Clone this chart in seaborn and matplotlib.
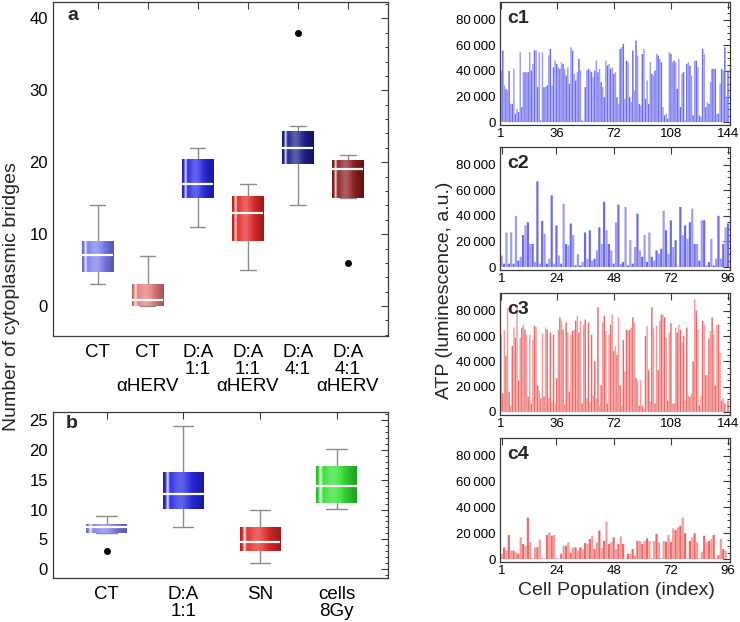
import numpy as np
import seaborn as sns
import matplotlib.pyplot as plt
from matplotlib.colors import to_rgb
from matplotlib.ticker import MultipleLocator, FixedLocator, FuncFormatter

# ── Panel a: cytoplasmic bridges (box stats) ────────────────────────────────
a_labels = ["CT", "CT\n\nαHERV", "D:A\n1:1", "D:A\n1:1\nαHERV",
            "D:A\n4:1", "D:A\n4:1\nαHERV"]
a_q1 = [4.75, 0.0, 15.0, 9.0, 19.8, 15.0]
a_med = [7.05, 0.9, 17.0, 13.0, 22.0, 19.0]
a_q3 = [9.0, 2.95, 20.3, 15.25, 24.3, 20.2]
a_lo = [3.0, 0.0, 11.0, 5.0, 14.0, 15.0]
a_hi = [14.0, 7.0, 22.0, 17.0, 25.0, 21.0]
a_out = [[], [], [], [], [38.0], [6.0]]
a_colors = ["#7b7bee", "#e57a7a", "#2626e0", "#e02626", "#1c1c8e", "#8e1c1c"]

# ── Panel b ─────────────────────────────────────────────────────────────────
b_labels = ["CT", "D:A\n1:1", "SN", "cells\n8Gy"]
b_q1 = [6.0, 10.05, 3.05, 11.05]
b_med = [7.1, 12.6, 4.6, 14.0]
b_q3 = [7.4, 16.1, 7.0, 17.1]
b_lo = [6.0, 7.1, 1.1, 10.05]
b_hi = [9.0, 24.0, 10.0, 20.1]
b_out = [[3.05], [], [], []]
b_colors = ["#7f7fef", "#2626e0", "#e02828", "#2ee02e"]

# ── Panels c1-c4: ATP per cell population (values in thousands) ─────────────
c1_k = [40.3, 56, 28.6, 26, 24.7, 40, 14.3, 14.3, 41.6, 6.5,
        10.4, 7.8, 54.6, 11.7, 39, 39, 39, 39, 54.6, 40.3,
        45.5, 56, 56, 27.3, 54.6, 1.3, 54.6, 27.3, 27.3, 28.6,
        52, 57.2, 28.6, 42.9, 48, 45.5, 42.9, 41.6, 46.8, 45.5,
        41.6, 36.4, 42.9, 29.9, 58.5, 55.9, 37.7, 32.5, 39, 49.4,
        40.3, 1.3, 0.5, 27.3, 40.3, 41.6, 40.3, 39, 35,
        40.3, 48, 39, 41.6, 31.2, 27.3, 19.5, 48, 44.2, 45.5,
        41.6, 42.9, 37.7, 39, 19.5, 14.3, 57.2, 58.5, 61.1, 18.2,
        48, 46.8, 19.5, 15.6, 55.9, 24.7, 63.7, 52, 14.3, 13,
        53.3, 57.2, 18.2, 32.5, 14.3, 46.8, 37.7, 36.4, 40.3, 53.3,
        52, 49.4, 46.8, 11.7, 5.2, 6.5, 2.6, 54.6, 53.3, 46.8,
        48, 46.8, 26, 49.4, 11.7, 37.7, 39, 1.3, 45.5, 46.8,
        44.2, 36.4, 5.2, 48, 48, 42.9, 5.2, 3.9, 57.2, 53.3,
        11.7, 15.6, 14.3, 31.2, 41.6, 41.6, 41.6, 6.5, 6.5, 30,
        41.6, 40.3, 58.5, 19.5, 40.3]
c2_k = [9, 2.6, 27, 2.6, 27, 2.6, 40, 5, 8, 25,
        32.5, 35, 18, 18, 4, 67, 2.6, 36, 26, 2.6,
        6.5, 56, 2.6, 32.5, 9, 2.6, 49.5, 18, 17, 34,
        25, 1.3, 10, 1.3, 4, 27, 6.5, 28.7, 5, 6.5,
        13, 31, 18,
        51, 28.7, 18, 13, 2.6, 35, 48.7, 2.6, 4, 47,
        1.3, 21, 2.6, 15.6, 41.7, 13, 8, 25, 4, 27,
        8, 5, 13, 10.4, 14.3, 44, 28.7, 10.4,
        36.5, 15.6, 21, 0.5, 47, 25, 32.5, 22, 35, 45.6,
        18, 18, 5, 36.5, 36.5, 1.3, 4, 22, 1.3, 6.5,
        40, 6.5, 18, 31, 34]
c3_k = [61, 14.7, 64.5, 44, 82, 16, 5, 52, 66.7, 58.7,
        82.7, 25, 58.7, 66.7, 69, 65, 61, 12, 61, 6.7,
        57, 68, 67, 21, 17, 10.7, 62, 12, 66.7, 65,
        10.7, 62.7, 8, 61, 6.7, 26.7, 65, 74.7, 72, 65,
        6.7, 70.7, 62.7, 16, 61, 64, 65, 72, 76, 62.7,
        72, 6.7, 69, 73, 10.7, 70.7, 8, 61, 13, 40,
        10.7, 82.7, 5, 21, 70.7, 76, 64, 6.7, 61, 69,
        77, 48, 52, 45, 74.7, 21, 5, 57, 32, 65,
        64, 65, 66.7, 74.7, 70.7, 26.7, 25, 5, 25, 5,
        2.7, 60, 68, 33, 8, 82.7, 66.7, 6.7, 68, 33, 72,
        77, 77, 74.7, 58.7, 9, 62.7, 70, 6.7, 6.7, 66.7, 62.7,
        69, 65, 54.7, 60, 9, 66.7, 13, 12, 14.7, 40, 89,
        80, 65, 5, 13, 72, 69, 29, 29, 58, 64, 74.7,
        61, 21, 69, 69, 46.7, 9, 10.7, 6.7, 0.5, 9]
c4_k = [4, 9, 6.5, 18.6, 6.5, 6.5, 5, 4, 16.8, 11.6,
        10.3, 32, 13, 0.5, 9, 9, 15, 0.5, 0.5, 18.6,
        20.6, 18, 18.6, 0.5, 0.5, 4, 10.3, 10.3, 13, 5,
        9, 9, 6.5, 9, 7.7, 12.4, 11.6, 15.5, 18, 7.7,
        13, 22, 8.5,
        14, 29, 11.6, 13, 16.8, 7.7, 11.6, 17.5, 11.6, 0.5,
        4, 4, 7.7, 2.6, 14, 14, 11.6, 14, 16, 14,
        0.5, 14, 19.4, 13, 0.5, 14, 13.4, 18.6, 13.4, 23.7,
        22.4, 24.5, 25.8, 32, 20, 0.5, 14, 16.8, 20, 13,
        0.5, 5.7, 18, 13, 14, 15.5, 18.6, 0.5, 3, 15.5,
        7.7, 6.5]
c1_ticks = [1, 36, 72, 108, 144]
c2_ticks = [1, 24, 48, 72, 96]

blue_pair = ["#9c9cf4", "#6c6ce8"]
red_pair = ["#f49c9c", "#ec6a6a"]

sns.set_theme(style="white")
plt.rcParams['font.family'] = ['Liberation Sans', 'DejaVu Sans']
plt.rcParams['axes.edgecolor'] = '#3a3a3a'
plt.rcParams['axes.linewidth'] = 0.9


def shade_box(ax, patch, base):
    # Mathematica-like glossy gradient across the box
    ext = patch.get_path().get_extents()
    t = np.linspace(0, 1, 90)
    glow = (0.85 * np.exp(-((t - 0.11) / 0.035) ** 2)
            + 0.28 * np.exp(-((t - 0.42) / 0.2) ** 2))
    dark = (0.3 * np.clip((t - 0.6) / 0.4, 0, 1)
            + 0.2 * np.clip((0.07 - t) / 0.07, 0, 1))
    rgb = np.array(to_rgb(base))[None, :] * (1 - dark[:, None])
    rgb = rgb + (1 - rgb) * glow[:, None]
    ax.imshow(rgb[None], extent=(ext.x0, ext.x1, ext.y0, ext.y1),
              aspect='auto', zorder=3, interpolation='bilinear')


def draw_boxes(ax, q1, med, q3, lo, hi, out, colors, width):
    stats = [dict(q1=a, med=m, q3=b, whislo=l, whishi=h, fliers=f)
             for a, m, b, l, h, f in zip(q1, med, q3, lo, hi, out)]
    parts = ax.bxp(stats, positions=np.arange(len(stats)), widths=width,
                   capwidths=width * 0.5, patch_artist=True,
                   boxprops=dict(facecolor='none', edgecolor='none'),
                   whiskerprops=dict(color='#8c8c8c', lw=1),
                   capprops=dict(color='#8c8c8c', lw=1),
                   medianprops=dict(color='white', lw=1.6, zorder=5),
                   flierprops=dict(marker='o', markerfacecolor='black',
                                   markeredgecolor='black', markersize=4))
    for patch, c in zip(parts['boxes'], colors):
        shade_box(ax, patch, c)


def frame_ticks(ax, size):
    ax.tick_params(which='both', direction='in', top=True, right=True,
                   labelsize=size, colors='#3a3a3a', labelcolor='black')
    ax.tick_params(which='major', length=5, width=0.8)
    ax.tick_params(which='minor', length=2.5, width=0.7)


fig = plt.figure(figsize=(7.4, 6.22), dpi=100)

# ── a ───────────────────────────────────────────────────────────────────────
ax_a = fig.add_axes([0.0716, 0.460, 0.4527, 0.537])
draw_boxes(ax_a, a_q1, a_med, a_q3, a_lo, a_hi, a_out, a_colors, 0.62)
ax_a.set_xlim(-0.89, 5.8)
ax_a.set_ylim(-4.15, 42.3)
ax_a.set_xticks(range(len(a_labels)))
ax_a.set_xticklabels(a_labels, fontsize=13.5, linespacing=0.98)
ax_a.yaxis.set_major_locator(MultipleLocator(10))
ax_a.yaxis.set_minor_locator(MultipleLocator(2))
frame_ticks(ax_a, 12)
ax_a.tick_params(axis='x', labelsize=13.5, pad=6)
ax_a.text(0.042, 0.946, 'a', transform=ax_a.transAxes, fontsize=14,
          fontweight='bold')

# ── b ───────────────────────────────────────────────────────────────────────
ax_b = fig.add_axes([0.0716, 0.0707, 0.4527, 0.267])
draw_boxes(ax_b, b_q1, b_med, b_q3, b_lo, b_hi, b_out, b_colors, 0.53)
ax_b.set_xlim(-0.70, 3.67)
ax_b.set_ylim(-1.5, 26.4)
ax_b.set_xticks(range(len(b_labels)))
ax_b.set_xticklabels(b_labels, fontsize=13.5, linespacing=0.98)
ax_b.yaxis.set_major_locator(MultipleLocator(5))
ax_b.yaxis.set_minor_locator(MultipleLocator(1))
frame_ticks(ax_b, 12)
ax_b.tick_params(axis='x', labelsize=13.5, pad=6)
ax_b.text(0.039, 0.902, 'b', transform=ax_b.transAxes, fontsize=14,
          fontweight='bold')

fig.text(0.016, 0.524, 'Number of cytoplasmic bridges', rotation=90,
         ha='center', va='center', fontsize=14)

# ── c1-c4 ───────────────────────────────────────────────────────────────────
c_rows = [(0.799, 0.198), (0.566, 0.198), (0.333, 0.196), (0.0965, 0.2)]
c_sets = [(c1_k, blue_pair, c1_ticks, 'c1'), (c2_k, blue_pair, c2_ticks, 'c2'),
          (c3_k, red_pair, c1_ticks, 'c3'), (c4_k, red_pair, c2_ticks, 'c4')]
thou = FuncFormatter(lambda v, p: f"{int(round(v)):,}".replace(",", "\u2009"))

for (bottom, height), (vals_k, pair, ticks, tag) in zip(c_rows, c_sets):
    ax = fig.add_axes([0.676, bottom, 0.311, height])
    vals = np.array(vals_k) * 1000
    idx = np.arange(1, len(vals) + 1)
    sns.barplot(x=idx, y=vals, native_scale=True, color=pair[0],
                saturation=1, width=0.92, linewidth=0, ax=ax)
    # alternate light / dark shading like the original
    for i, bar in enumerate(ax.patches):
        bar.set_facecolor(pair[i % 2])
        bar.set_edgecolor('none')
        bar.set_snap(False)
    n = ticks[-1]
    ax.set_xlim(0.4, n + 1.5 if n == 144 else n + 1.0)
    ax.set_ylim(-2300, 94000)
    ax.xaxis.set_major_locator(FixedLocator(ticks))
    ax.set_xticklabels([str(t) for t in ticks])
    ax.yaxis.set_major_locator(MultipleLocator(20000))
    ax.yaxis.set_minor_locator(MultipleLocator(5000))
    ax.yaxis.set_major_formatter(thou)
    frame_ticks(ax, 9.5)
    ax.tick_params(axis='x', pad=2)
    ax.set_xlabel('')
    ax.set_ylabel('')
    ax.text(0.03, 0.83, tag, transform=ax.transAxes, fontsize=14,
            fontweight='bold')

fig.text(0.601, 0.534, 'ATP (luminescence, a.u.)', rotation=90,
         ha='center', va='center', fontsize=14)
fig.text(0.833, 0.051, 'Cell Population (index)', ha='center', va='center',
         fontsize=14)

fig.savefig('out.png', dpi=100)
